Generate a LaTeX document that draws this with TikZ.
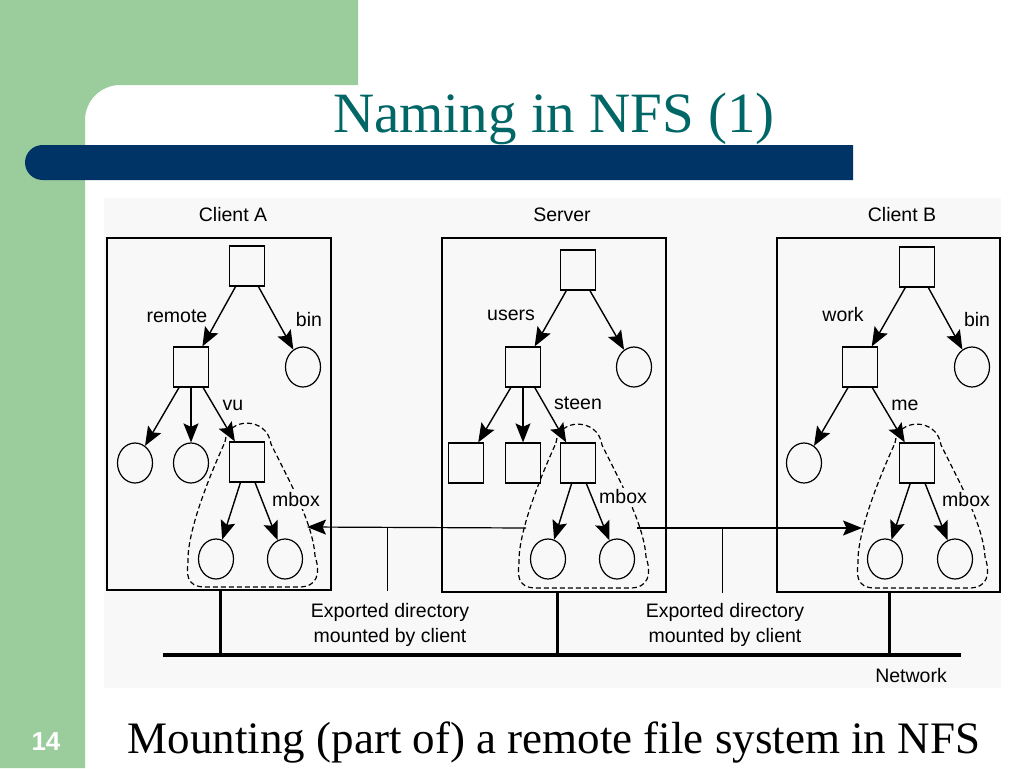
\documentclass[tikz,border=0pt]{standalone}
\usepackage{fontspec}
\setmainfont{Liberation Serif}
\newfontfamily\arialfam{Liberation Sans}
\usepackage{tikz}
\usetikzlibrary{arrows.meta,positioning,calc,shapes.geometric}

\definecolor{slidegreen}{RGB}{155,204,155}
\definecolor{slidenavy}{RGB}{0,51,102}
\definecolor{slideteal}{RGB}{0,102,102}
\definecolor{figgray}{RGB}{248,248,248}
\newcommand{\lblfont}{\arialfam\fontsize{19.5}{25}\selectfont}
% dashed outline of the exported / mounted subtree
\newcommand{\mountarea}[1]{\draw [mountline, shift={(#1)}] (-22,-20) .. controls (-20,-45) and (20,-46) .. (24,-18) .. controls (40,15) and (66,60) .. (68,94) .. controls (74,112) and (70,125) .. (52,125) -- (-42,125) .. controls (-62,125) and (-60,110) .. (-59,100) .. controls (-60,70) and (-38,15) .. cycle;}

\begin{document}
\begin{tikzpicture}[x=1pt, y=-1pt, >={Stealth[length=19pt,width=15pt,inset=3.5pt]},
		dirbox/.style={draw, line width=1.2pt, minimum width=35pt, minimum height=40pt, inner sep=0pt},
		filenode/.style={draw, ellipse, line width=1.2pt, minimum width=35pt, minimum height=40pt, inner sep=0pt},
		machine/.style={draw, line width=1.2pt, inner sep=0pt},
		lbl/.style={font=\lblfont, inner sep=0pt},
		boxlbl/.style={lbl, fill=figgray, inner sep=1.5pt},
		treeline/.style={line width=1.4pt},
		mountline/.style={line width=1.2pt, dash pattern=on 5pt off 3pt},
		netline/.style={line width=4pt},
		dropline/.style={line width=3pt}]
		\useasboundingbox (0,0) rectangle (1024,768);
		\fill [white] (0,0) rectangle (1024,768);

		% slide decoration
		\fill [slidegreen] (0,0) -- (358,0) -- (358,85) -- (120,85) .. controls (100.7,85) and (85,100.7) .. (85,120) -- (85,768) -- (0,768) -- cycle;
		\fill [slidenavy] (853,145) -- (42.5,145) .. controls (33,145) and (25,152.8) .. (25,162.5) .. controls (25,172.2) and (33,180) .. (42.5,180) -- (853,180) -- cycle;
		\node (title) at (554,132) [anchor=base, inner sep=0pt, text=slideteal, font=\fontsize{57}{60}\selectfont] {Naming in NFS (1)};
		\node (pagenum) at (46,742) [inner sep=0pt, text=white, font=\arialfam\bfseries\fontsize{26}{28}\selectfont] {14};
		\node (caption) at (554,753) [anchor=base, inner sep=0pt, font=\fontsize{45}{48}\selectfont] {Mounting (part of) a remote file system in NFS};

		\fill [figgray] (104,198) rectangle (1001,688);

		% machines
		\node (boxA) at (219,414) [machine, minimum width=224pt, minimum height=352pt] {};
		\node (boxS) at (554,415) [machine, minimum width=224pt, minimum height=354pt] {};
		\node (boxB) at (888.5,415) [machine, minimum width=223pt, minimum height=354pt] {};
		\node (nameA) at (233,215) [lbl] {Client A};
		\node (nameS) at (562,215) [lbl] {Server};
		\node (nameB) at (902,215) [lbl] {Client B};

		% client A
		\node (rootA) at (247,266) [dirbox] {};
		\node (remA) at (191,367) [dirbox] {};
		\node (binA) at (303,367) [filenode] {};
		\node (fA1) at (135,463) [filenode] {};
		\node (fA2) at (191,463) [filenode] {};
		\node (vuA) at (247,462) [dirbox] {};
		\node (mA1) at (216,559) [filenode] {};
		\node (mA2) at (285,559) [filenode] {};
		\draw [treeline, ->] (rootA) edge (remA) (rootA) edge (binA) (remA) edge (fA1) (remA) edge (fA2) (remA) edge (vuA) (vuA) edge (mA1) (vuA) edge (mA2);
		\mountarea{vuA}
		\node (lremote) at (177,316) [lbl] {remote};
		\node (lbinA) at (309,320) [lbl] {bin};
		\node (lvu) at (233,405) [lbl] {vu};
		\node (lmboxA) at (296,500) [boxlbl] {mbox};

		% server
		\node (rootS) at (578,270) [dirbox] {};
		\node (usrS) at (523,367) [dirbox] {};
		\node (fS) at (634,367) [filenode] {};
		\node (dS1) at (466,463) [dirbox] {};
		\node (dS2) at (523,463) [dirbox] {};
		\node (stS) at (578,463) [dirbox] {};
		\node (mS1) at (548,559) [filenode] {};
		\node (mS2) at (617,559) [filenode] {};
		\draw [treeline, ->] (rootS) edge (usrS) (rootS) edge (fS) (usrS) edge (dS1) (usrS) edge (dS2) (usrS) edge (stS) (stS) edge (mS1) (stS) edge (mS2);
		\mountarea{stS}
		\node (lusers) at (511,315) [lbl] {users};
		\node (lsteen) at (578,403) [lbl] {steen};
		\node (lmboxS) at (623,497) [boxlbl] {mbox};

		% client B
		\node (rootB) at (917,267) [dirbox] {};
		\node (wrkB) at (860,367) [dirbox] {};
		\node (binB) at (972,367) [filenode] {};
		\node (fB) at (804,463) [filenode] {};
		\node (meB) at (917,463) [dirbox] {};
		\node (mB1) at (885,559) [filenode] {};
		\node (mB2) at (955,559) [filenode] {};
		\draw [treeline, ->] (rootB) edge (wrkB) (rootB) edge (binB) (wrkB) edge (fB) (wrkB) edge (meB) (meB) edge (mB1) (meB) edge (mB2);
		\mountarea{meB}
		\node (lwork) at (843,315) [lbl] {work};
		\node (lbinB) at (977,320) [lbl] {bin};
		\node (lme) at (905,405) [lbl] {me};
		\node (lmboxB) at (966,500) [boxlbl] {mbox};

		% mounts
		\coordinate (aR) at ($(vuA)+(60,65)$);
		\coordinate (sL) at ($(stS)+(-52,65)$);
		\coordinate (sR) at ($(stS)+(59,65)$);
		\coordinate (bL) at ($(meB)+(-55,65)$);
		\draw [line width=1.2pt, ->] (sL) -- (aR);
		\draw [line width=1.2pt, ->] (sR) -- (bL);
		\coordinate (tickA) at (387,527);
		\coordinate (tickB) at (722,527);
		\draw [line width=1pt] (tickA) -- (tickA |- boxA.south);
		\draw [line width=1pt] (tickB) -- (tickB |- boxS.south);

		% network
		\coordinate (netW) at (163,655);
		\coordinate (netE) at (961,655);
		\coordinate (dropA) at (220,655);
		\coordinate (dropS) at (557,655);
		\coordinate (dropB) at (889,655);
		\draw [netline] (netW) -- (netE);
		\draw [dropline] (dropA) -- (dropA |- boxA.south);
		\draw [dropline] (dropS) -- (dropS |- boxS.south);
		\draw [dropline] (dropB) -- (dropB |- boxB.south);
		\node (expA) at (390,625) [lbl, align=center] {Exported directory\\mounted by client};
		\node (expB) at (725,625) [lbl, align=center] {Exported directory\\mounted by client};
		\node (lnet) at (911,676) [lbl] {Network};
	\end{tikzpicture}
\end{document}
